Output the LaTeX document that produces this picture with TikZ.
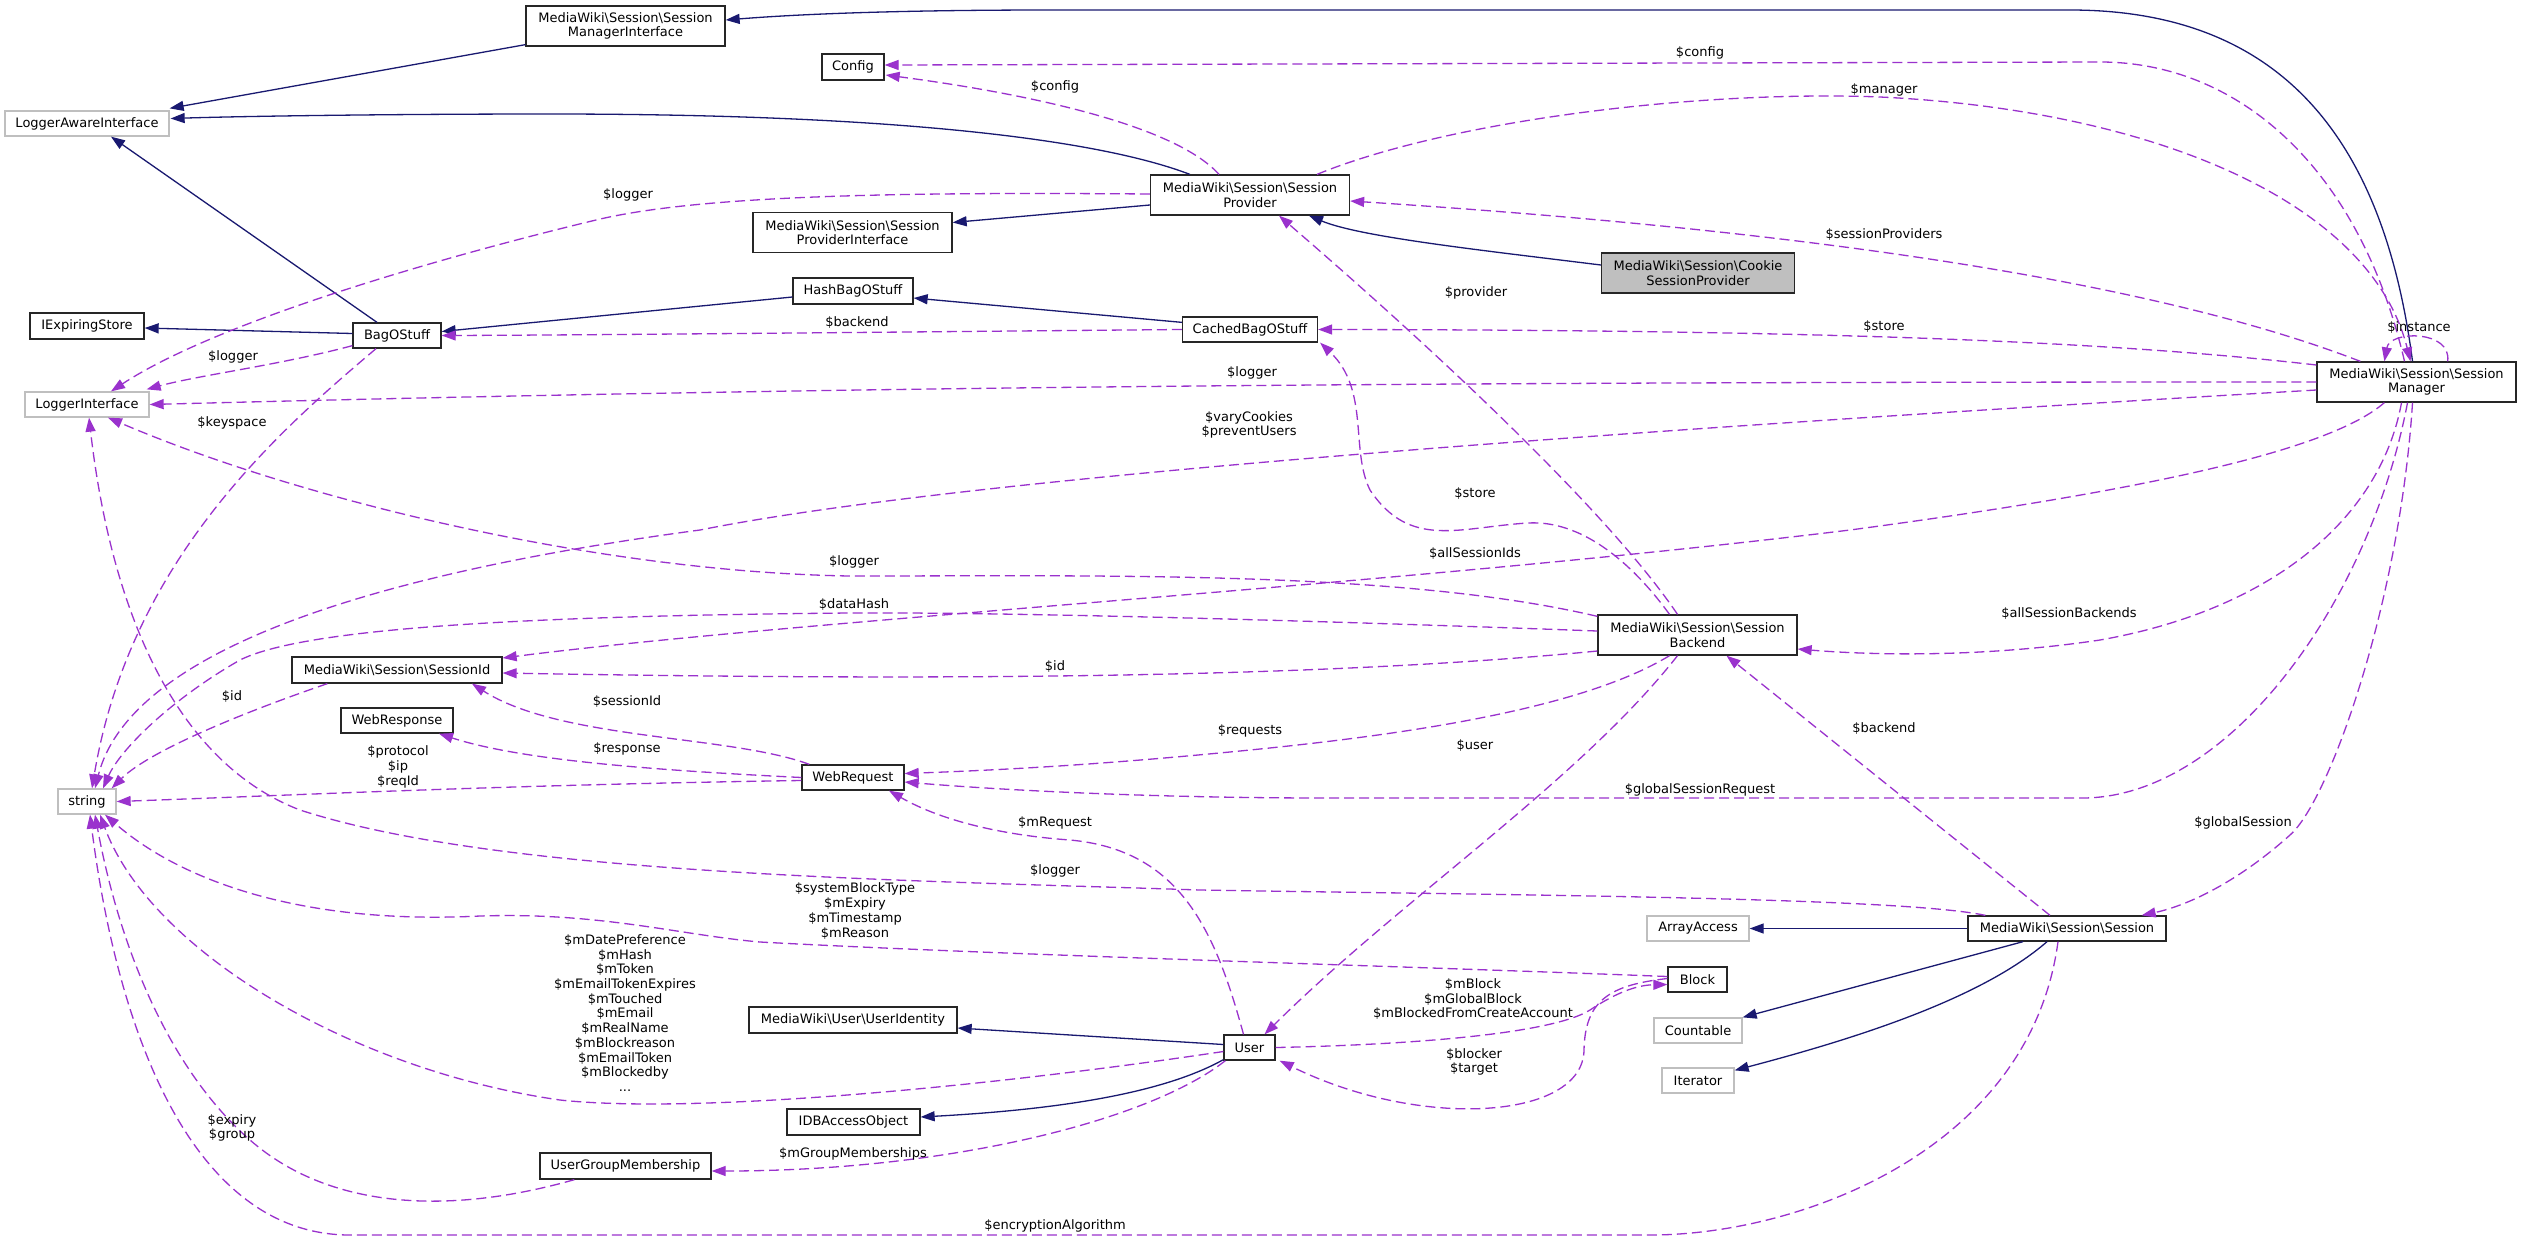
\documentclass[tikz,border=0pt]{standalone}
\usepackage{fontspec}
\setmainfont{DejaVu Sans}
\usetikzlibrary{arrows.meta,calc}
\definecolor{navy}{HTML}{191970}
\definecolor{orchid}{HTML}{9A32CD}
\definecolor{extgray}{HTML}{BFBFBF}
\newcommand{\mybs}{\textbackslash}
\begin{document}
\begin{tikzpicture}[x=1pt,y=-1pt,
 font=\fontsize{13}{14.7}\selectfont,
 cls/.style={draw=black!85,line width=1.3pt,fill=white,align=center,inner sep=0pt},
 ext/.style={cls,draw=extgray},
 inh/.style={draw=navy,line width=1.3pt,-{Triangle[length=14pt,width=10pt]}},
 use/.style={draw=orchid,line width=1.3pt,dash pattern=on 10pt off 5pt,-{Triangle[length=14pt,width=10pt]}},
 lbl/.style={align=center,inner sep=0pt}]
\fill[white] (0,0) rectangle (2521,1243);
\useasboundingbox (0,0) rectangle (2521,1243);

% nodes
\node[cls,minimum width=199pt,minimum height=40pt] (smi) at (625.5,26) {MediaWiki\mybs Session\mybs Session\\ManagerInterface};
\node[cls,minimum width=62pt,minimum height=26pt] (config) at (853,67) {Config};
\node[ext,minimum width=164pt,minimum height=25pt] (lai) at (87,123.5) {LoggerAwareInterface};
\node[cls,minimum width=199pt,minimum height=40pt] (spi) at (852.5,232.5) {MediaWiki\mybs Session\mybs Session\\ProviderInterface};
\node[cls,minimum width=120pt,minimum height=26pt] (hbos) at (853,291) {HashBagOStuff};
\node[cls,minimum width=114pt,minimum height=26pt] (ies) at (87,326) {IExpiringStore};
\node[cls,minimum width=88pt,minimum height=25pt] (bos) at (397,335.5) {BagOStuff};
\node[ext,minimum width=124pt,minimum height=25pt] (li) at (87,404.5) {LoggerInterface};
\node[cls,minimum width=199pt,minimum height=40pt] (sp) at (1250,195) {MediaWiki\mybs Session\mybs Session\\Provider};
\node[cls,minimum width=135pt,minimum height=25pt] (cbos) at (1250,329.5) {CachedBagOStuff};
\node[cls,fill=extgray,minimum width=193pt,minimum height=40pt] (csp) at (1698,273) {MediaWiki\mybs Session\mybs Cookie\\SessionProvider};
\node[cls,minimum width=199pt,minimum height=40pt] (sm) at (2416.5,382) {MediaWiki\mybs Session\mybs Session\\Manager};
\node[cls,minimum width=210pt,minimum height=26pt] (sid) at (397,670) {MediaWiki\mybs Session\mybs SessionId};
\node[cls,minimum width=112pt,minimum height=25pt] (wresp) at (397,720.5) {WebResponse};
\node[ext,minimum width=58pt,minimum height=25pt] (str) at (87,801.5) {string};
\node[cls,minimum width=102pt,minimum height=25pt] (wreq) at (853,777.5) {WebRequest};
\node[cls,minimum width=199pt,minimum height=40pt] (sb) at (1697.5,635) {MediaWiki\mybs Session\mybs Session\\Backend};
\node[cls,minimum width=208pt,minimum height=26pt] (ui) at (853,1020) {MediaWiki\mybs User\mybs UserIdentity};
\node[cls,minimum width=133pt,minimum height=26pt] (idb) at (853.5,1122) {IDBAccessObject};
\node[cls,minimum width=171pt,minimum height=26pt] (ugm) at (625.5,1166) {UserGroupMembership};
\node[cls,minimum width=51pt,minimum height=25pt] (user) at (1249.5,1047.5) {User};
\node[cls,minimum width=59pt,minimum height=25pt] (block) at (1697.5,979.5) {Block};
\node[ext,minimum width=102pt,minimum height=25pt] (aa) at (1698,928.5) {ArrayAccess};
\node[ext,minimum width=88pt,minimum height=25pt] (cnt) at (1698,1030.5) {Countable};
\node[ext,minimum width=72pt,minimum height=25pt] (it) at (1698,1080.5) {Iterator};
\node[cls,minimum width=198pt,minimum height=25pt] (sess) at (2067,928.5) {MediaWiki\mybs Session\mybs Session};

% inheritance
\draw[inh] ($(sm.north)+(-4,0)$) .. controls (2385,150) and (2290,10) .. (2070,10) -- (1050,10) .. controls (900,10) and (800,14) .. ($(smi.east)+(0,-6)$);
\draw[inh] ($(smi.south west)+(0,-2)$) -- ($(lai.north east)+(0,-2)$);
\draw[inh] ($(sp.north west)+(40,0)$) .. controls (1100,140) and (900,114) .. (550,114) .. controls (400,114) and (250,116) .. ($(lai.east)+(1,-5)$);
\draw[inh] ($(sp.west)+(0,10)$) -- ($(spi.east)+(0,-10)$);
\draw[inh] ($(csp.west)+(0,-8)$) .. controls (1480,250) and (1360,237) .. ($(sp.south)+(59,0)$);
\draw[inh] ($(bos.north)+(-20,0)$) -- ($(lai.south)+(24,0)$);
\draw[inh] ($(bos.west)+(0,-2)$) -- ($(ies.east)+(0,2)$);
\draw[inh] ($(hbos.west)+(0,6)$) -- ($(bos.east)+(0,-4)$);
\draw[inh] ($(cbos.north west)+(0,6)$) -- ($(hbos.east)+(0,7)$);
\draw[inh] ($(user.west)+(0,-3)$) -- ($(ui.east)+(0,8)$);
\draw[inh] ($(user.south west)+(0,-1)$) .. controls (1160,1095) and (1050,1110) .. ($(idb.east)+(0,-5)$);
\draw[inh] (sess.west) -- (aa.east);
\draw[inh] ($(sess.south)+(-44,0)$) -- (cnt.north east);
\draw[inh] ($(sess.south)+(-20,0)$) .. controls (1980,1000) and (1850,1040) .. ($(it.north east)+(0,3)$);

% usage
\draw[use] ($(sm.north)+(-12,0)$) .. controls (2360,170) and (2240,62) .. (2100,62) -- ($(config.east)+(0,-2)$);
\draw[use] ($(sp.north)+(-31,0)$) .. controls (1170,120) and (1000,90) .. ($(config.east)+(1,8)$);
\draw[use] ($(sp.west)+(0,-1)$) .. controls (900,192) and (700,195) .. (596,220) .. controls (450,255) and (220,320) .. ($(li.north)+(24,0)$);
\draw[use] ($(sp.north)+(67,0)$) .. controls (1450,120) and (1700,90) .. (1880,97) .. controls (2150,110) and (2370,200) .. ($(sm.north)+(-6,0)$);
\draw[use] ($(sm.north west)+(44,0)$) .. controls (2150,280) and (1800,230) .. ($(sp.east)+(0,6)$);
\draw[use] ($(sm.west)+(0,-17)$) .. controls (2100,340) and (1800,330) .. (cbos.east);
\draw[use] (sm.west) .. controls (1500,382) and (900,385) .. (li.east);
\draw[use] ($(sm.west)+(0,8)$) .. controls (1800,420) and (1000,470) .. (700,530) .. controls (250,590) and (120,690) .. ($(str.north)+(8,0)$);
\draw[use] ($(sm.south west)+(68,0)$) .. controls (2330,450) and (2150,490) .. (1850,530) .. controls (1400,585) and (800,620) .. ($(sid.east)+(0,-12)$);
\draw[use] ($(sm.south)+(-15,0)$) .. controls (2380,520) and (2270,610) .. (2100,640) .. controls (1980,658) and (1870,655) .. ($(sb.east)+(0,14)$);
\draw[use] ($(sm.south)+(-9,0)$) .. controls (2370,600) and (2230,798) .. (2082,798) -- (1328,798) .. controls (1150,798) and (1000,790) .. ($(wreq.east)+(0,4.5)$);
\draw[use] ($(sm.south)+(-4,0)$) .. controls (2400,600) and (2330,800) .. (2290,835) .. controls (2240,880) and (2190,905) .. ($(sess.north east)+(-25,0)$);
\draw[use] ($(sm.north east)+(-69,0)$) .. controls (2452,330) and (2390,330) .. ($(sm.north west)+(68,0)$);

\draw[use] ($(sb.north)+(-20,0)$) .. controls (1600,500) and (1400,320) .. ($(sp.south)+(29,0)$);
\draw[use] ($(sb.north)+(-28,0)$) .. controls (1630,560) and (1580,520) .. (1528,523) .. controls (1460,527) and (1410,550) .. (1370,490) .. controls (1350,450) and (1370,390) .. ($(cbos.south east)+(2,0)$);
\draw[use] ($(sb.north west)+(0,2)$) .. controls (1400,570) and (1100,576) .. (850,576) .. controls (600,572) and (300,500) .. ($(li.south)+(21,0)$);
\draw[use] ($(sb.west)+(0,-4)$) .. controls (1300,620) and (1000,612) .. (850,613) .. controls (500,616) and (300,630) .. (240,660) .. controls (170,700) and (120,750) .. ($(str.north)+(16,0)$);
\draw[use] ($(sb.west)+(0,16)$) .. controls (1300,680) and (900,680) .. ($(sid.east)+(0,3)$);
\draw[use] ($(sb.south)+(-28,0)$) .. controls (1580,710) and (1400,735) .. (1250,750) .. controls (1100,765) and (1000,770) .. ($(wreq.east)+(0,-4)$);
\draw[use] ($(sb.south)+(-20,0)$) .. controls (1580,780) and (1400,900) .. ($(user.north)+(15,0)$);

\draw[use] ($(sess.north)+(-17,0)$) -- ($(sb.south)+(29,0)$);
\draw[use] ($(sess.north west)+(18,0)$) .. controls (1900,897) and (1500,895) .. (1200,890) .. controls (900,880) and (500,875) .. (300,810) .. controls (170,760) and (110,600) .. ($(li.south)+(2,0)$);
\draw[use] ($(sess.south)+(-9,0)$) .. controls (2030,1150) and (1800,1235) .. (1650,1235) -- (350,1235) .. controls (200,1235) and (120,1050) .. ($(str.south)+(3,0)$);

\draw[use] ($(user.north)+(-6,0)$) .. controls (1215,930) and (1180,850) .. (1070,840) .. controls (1000,835) and (940,820) .. ($(wreq.south)+(36,0)$);
\draw[use] ($(user.west)+(0,4)$) .. controls (1000,1085) and (700,1115) .. (560,1100) .. controls (350,1070) and (150,950) .. ($(str.south)+(13,0)$);
\draw[use] ($(user.south west)+(2,0)$) .. controls (1150,1120) and (950,1171) .. ($(ugm.east)+(0,5)$);
\draw[use] (user.east) .. controls (1400,1045) and (1550,1035) .. (1590,1010) .. controls (1620,990) and (1640,985) .. ($(block.west)+(0,5)$);
\draw[use] ($(block.west)+(0,-1)$) .. controls (1610,985) and (1585,1000) .. (1584,1050) .. controls (1583,1120) and (1420,1130) .. ($(user.south east)+(4,0)$);
\draw[use] ($(block.west)+(0,-3)$) .. controls (1400,966) and (1000,955) .. (760,942) .. controls (680,935) and (600,912) .. (480,916) .. controls (300,925) and (180,880) .. ($(str.south)+(18,0)$);

\draw[use] ($(wreq.north west)+(8,0)$) .. controls (730,735) and (560,740) .. ($(sid.south)+(75,0)$);
\draw[use] (wreq.west) .. controls (650,770) and (520,760) .. ($(wresp.south)+(42,0)$);
\draw[use] ($(wreq.west)+(0,3)$) .. controls (500,785) and (300,795) .. (str.east);
\draw[use] ($(sid.south west)+(36,0)$) .. controls (250,710) and (150,750) .. ($(str.north east)+(-5,0)$);
\draw[use] ($(bos.south west)+(0,-3)$) .. controls (280,365) and (200,375) .. ($(li.north east)+(-3,-2)$);
\draw[use] ($(bos.south)+(-21,0)$) .. controls (280,430) and (130,560) .. ($(str.north)+(5,0)$);
\draw[use] (cbos.west) .. controls (900,332) and (600,335) .. (bos.east);
\draw[use] ($(ugm.south west)+(35,0)$) .. controls (450,1215) and (330,1210) .. (250,1140) .. controls (170,1070) and (120,950) .. ($(str.south)+(8,0)$);

% labels
\node[lbl] (l1) at (1700,53) {\$config};
\node[lbl] (l2) at (1055,87) {\$config};
\node[lbl] (l3) at (628,195) {\$logger};
\node[lbl] (l4) at (1884,90) {\$manager};
\node[lbl] (l5) at (1884,235) {\$sessionProviders};
\node[lbl] (l6) at (1884,327) {\$store};
\node[lbl] (l7) at (1252,373) {\$logger};
\node[lbl] (l8) at (1249,425) {\$varyCookies\\\$preventUsers};
\node[lbl] (l9) at (2419,328) {\$instance};
\node[lbl] (l10) at (1475,554) {\$allSessionIds};
\node[lbl] (l11) at (2069,614) {\$allSessionBackends};
\node[lbl] (l12) at (1700,790) {\$globalSessionRequest};
\node[lbl] (l13) at (2243,823) {\$globalSession};
\node[lbl] (l14) at (1476,293) {\$provider};
\node[lbl] (l15) at (1475,494) {\$store};
\node[lbl] (l16) at (854,562) {\$logger};
\node[lbl] (l17) at (854,605) {\$dataHash};
\node[lbl] (l18) at (1055,667) {\$id};
\node[lbl] (l19) at (1250,731) {\$requests};
\node[lbl] (l20) at (1475,746) {\$user};
\node[lbl] (l21) at (1884,729) {\$backend};
\node[lbl] (l22) at (1055,871) {\$logger};
\node[lbl] (l23) at (1055,1226) {\$encryptionAlgorithm};
\node[lbl] (l24) at (1055,823) {\$mRequest};
\node[lbl] (l25) at (625,1013) {\$mDatePreference\\\$mHash\\\$mToken\\\$mEmailTokenExpires\\\$mTouched\\\$mEmail\\\$mRealName\\\$mBlockreason\\\$mEmailToken\\\$mBlockedby\\...};
\node[lbl] (l26) at (853,1154) {\$mGroupMemberships};
\node[lbl] (l27) at (1473,999) {\$mBlock\\\$mGlobalBlock\\\$mBlockedFromCreateAccount};
\node[lbl] (l28) at (1474,1062) {\$blocker\\\$target};
\node[lbl] (l29) at (855,911) {\$systemBlockType\\\$mExpiry\\\$mTimestamp\\\$mReason};
\node[lbl] (l30) at (627,702) {\$sessionId};
\node[lbl] (l31) at (627,749) {\$response};
\node[lbl] (l32) at (398,767) {\$protocol\\\$ip\\\$reqId};
\node[lbl] (l33) at (232,697) {\$id};
\node[lbl] (l34) at (233,357) {\$logger};
\node[lbl] (l35) at (232,423) {\$keyspace};
\node[lbl] (l36) at (857,323) {\$backend};
\node[lbl] (l37) at (232,1128) {\$expiry\\\$group};
\end{tikzpicture}
\end{document}
